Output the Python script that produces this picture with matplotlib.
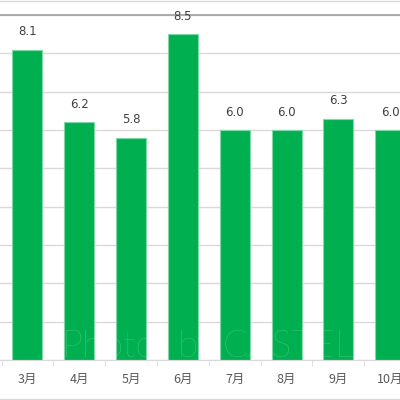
import numpy as np
import matplotlib.pyplot as plt

plt.rcParams['font.family'] = ['Noto Sans CJK JP', 'DejaVu Sans']

months = ['3月', '4月', '5月', '6月', '7月', '8月', '9月', '10月']
values = [8.1, 6.2, 5.8, 8.5, 6.0, 6.0, 6.3, 6.0]
labels = ['8.1', '6.2', '5.8', '8.5', '6.0', '6.0', '6.3', '6.0']

fig = plt.figure(figsize=(4, 4), dpi=100)
ax = fig.add_axes([0, 0.1, 1, 0.8625])

x = np.arange(len(months))
ax.bar(x, values, width=0.58, color='#00B050', edgecolor='#7FD8A7',
       linewidth=0.8, zorder=2)
for xi, v, t in zip(x, values, labels):
    ax.text(xi, v + 0.3, t, ha='center', va='bottom', fontsize=8.5,
            color='#404040', family='DejaVu Sans')

ax.set_yticks(np.arange(0, 10))
ax.yaxis.grid(True, color='#D9D9D9', linewidth=1, zorder=0)
ax.tick_params(axis='y', left=False, labelleft=False)
ax.set_xticks(x)
ax.set_xticklabels(months, fontsize=9, color='#595959')
ax.set_xticks(np.append(x - 0.5, 7.5), minor=True)
ax.tick_params(axis='x', which='major', length=0, pad=9)
ax.tick_params(axis='x', which='minor', length=4, color='#D9D9D9')
ax.set_xlim(-0.53, 7.19)
ax.set_ylim(0, 9)
for s in ['left', 'right']:
    ax.spines[s].set_visible(False)
ax.spines['bottom'].set_color('#D9D9D9')
ax.spines['top'].set_color('#A6A6A6')
ax.spines['top'].set_linewidth(1.3)

# outer border lines of the chart
fig.add_artist(plt.Line2D([0, 1], [0.998, 0.998], color='#D9D9D9', linewidth=1))
fig.add_artist(plt.Line2D([0, 1], [0.003, 0.003], color='#D9D9D9', linewidth=1))

# watermark, word by word
for word, left in [('Photo', 0.155), ('by', 0.443), ('CASTEL', 0.557)]:
    fig.text(left, 0.1075, word, ha='left', va='baseline',
             fontsize=27, color='white', alpha=0.32, family='Lato',
             fontweight='light')

fig.savefig('out.png', dpi=100)
